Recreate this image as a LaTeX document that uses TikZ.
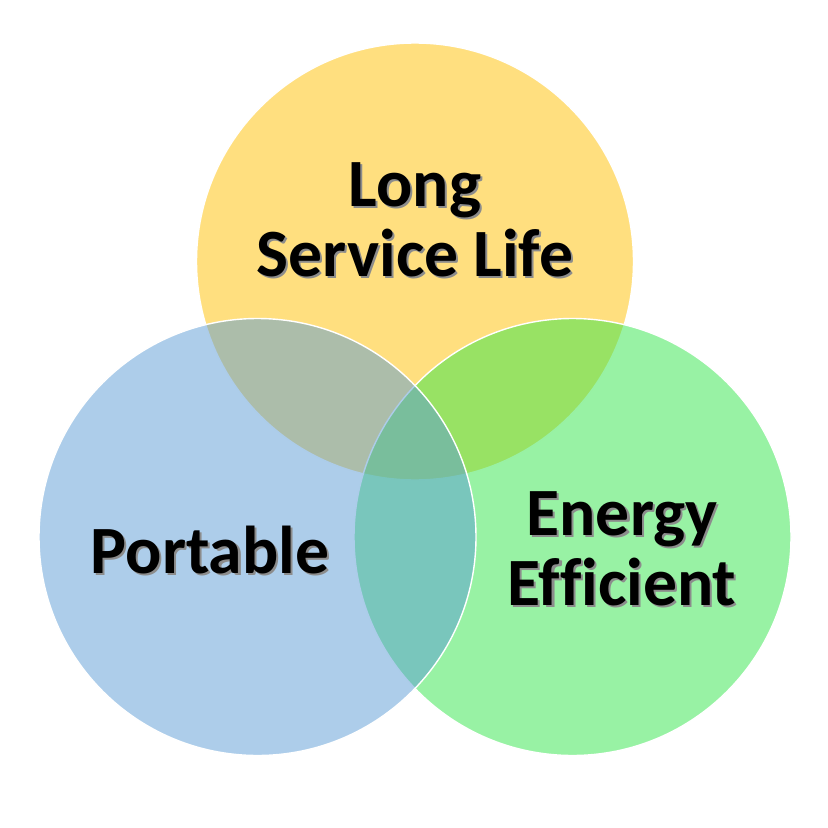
\documentclass[tikz,border=0pt]{standalone}
\usepackage{fontspec}
\setmainfont{Carlito}[Ligatures=NoCommon]
\definecolor{yellowset}{RGB}{255,192,0}
\definecolor{blueset}{RGB}{91,155,213}
\definecolor{greenset}{RGB}{50,229,74}
\begin{document}
\begin{tikzpicture}[
        x=0.02cm, y=-0.02cm,
        set/.style={circle, draw=white, line width=0.8pt, fill opacity=0.5, minimum size=437*0.02cm, inner sep=0pt},
        label/.style={align=center, font=\fontsize{38.5}{40}\selectfont\bfseries, text=black},
        shadow/.style={label, text=black!45, xshift=1.2pt, yshift=-1.2pt}
    ]
        \useasboundingbox (0,0) rectangle (828,828);
        \node[set, fill=yellowset] (L) at (415,261.5) {};
        \node[set, fill=greenset] (E) at (572.5,537) {};
        \node[set, fill=blueset] (P) at (257.5,537) {};

        \node[shadow] at (415,220) {Long\\Service Life};
        \node[label] (Ltext) at (415,220) {Long\\Service Life};
        \node[shadow] at (210,550) {Portable};
        \node[label] (Ptext) at (210,550) {Portable};
        \node[shadow] at (622,549) {Energy\\Efficient};
        \node[label] (Etext) at (622,549) {Energy\\Efficient};
    \end{tikzpicture}
\end{document}
